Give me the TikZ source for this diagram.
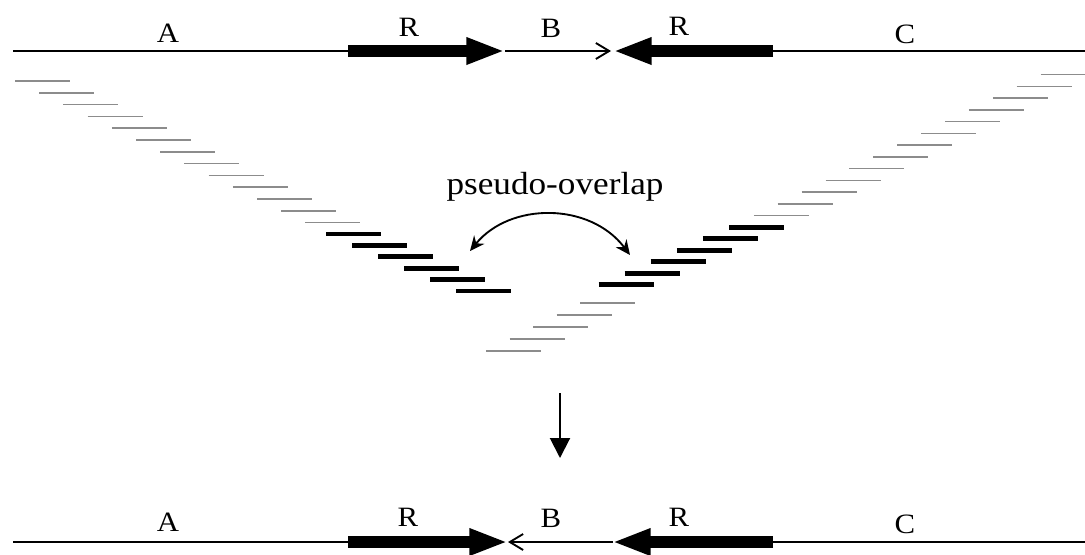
\documentclass[tikz,border=0pt]{standalone}
\usepackage{fontspec}
\setmainfont{Liberation Serif}
\usepackage{graphicx}
\usetikzlibrary{arrows.meta}
\newcommand{\stretched}[1]{\scalebox{1.1}[1]{#1}}
\tikzset{
    % genome line and the two repeat copies
    genome/.style={line width=1.5pt, black},
    repeatcopy/.style={line width=8.5pt, black, -{Triangle[length=29pt,width=18.5pt]}},
    gaparrow/.style={line width=1.4pt, black, -{Straight Barb[length=10pt,width=12pt,line width=1.4pt]}},
    % reads
    read/.style={line width=1.1pt, black!45},
    repeatread/.style={line width=3.6pt, black},
    % arrows in the middle
    swaparrow/.style={line width=1.4pt, {Stealth[length=11pt,width=10pt]}-{Stealth[length=11pt,width=10pt]}},
    steparrow/.style={line width=1.5pt, -{Triangle[length=15pt,width=15pt]}},
    lbl/.style={font=\fontsize{21pt}{24pt}\selectfont, anchor=base, inner sep=0pt},
    biglbl/.style={font=\fontsize{24pt}{27pt}\selectfont, anchor=base, inner sep=0pt},
}

\begin{document}
\begin{tikzpicture}[x=0.75pt,y=-0.75pt]
  \useasboundingbox (0,0) rectangle (1085,554);
  \clip (0,0) rectangle (1085,554);

  % top: genome before assembly
  \coordinate (tA) at (13,51);
  \coordinate (tR1) at (348,51);
  \coordinate (tB) at (505,51);
  \coordinate (tB2) at (611,51);
  \coordinate (tR2) at (613,51);
  \coordinate (tC) at (773,51);
  \coordinate (tE) at (1085,51);
  \draw[genome] (tA) -- (tR1);
  \draw[repeatcopy] (tR1) -- (tB);
  \draw[gaparrow] (tB) -- (tB2);
  \draw[repeatcopy] (tC) -- (tR2);
  \draw[genome] (tC) -- (tE);
  \node[lbl] (ltA) at (168,42) {\stretched{A}};
  \node[lbl] (ltR1) at (409,36) {\stretched{R}};
  \node[lbl] (ltB) at (551,37) {\stretched{B}};
  \node[lbl] (ltR2) at (679,35) {\stretched{R}};
  \node[lbl] (ltC) at (905,43) {\stretched{C}};

  % reads, left side
  \foreach \i in {0,...,12}{\draw[read] ({15+24.2*\i},{81+11.8*\i}) -- ++(55,0);}
  \foreach \i in {0,...,5}{\draw[repeatread] ({326+26*\i},{234+11.4*\i}) -- ++(55,0);}
  % reads, right side
  \foreach \i in {0,...,12}{\draw[read] ({1040.6-23.9*\i},{74.7+11.75*\i}) -- ++(55,0);}
  \foreach \i in {0,...,5}{\draw[repeatread] ({729-26.1*\i},{227.3+11.5*\i}) -- ++(55,0);}
  \foreach \i in {0,...,4}{\draw[read] ({580-23.5*\i},{303+12*\i}) -- ++(55,0);}

  % pseudo-overlap between the two read stacks
  \node[biglbl] (ov) at (555,194) {\stretched{pseudo-overlap}};
  \coordinate (ovL) at (470,251);
  \coordinate (ovR) at (630,255);
  \draw[swaparrow] (ovL) .. controls (510,202) and (590,202) .. (ovR);

  \coordinate (dTop) at (560,393);
  \coordinate (dBot) at (560,458);
  \draw[steparrow] (dTop) -- (dBot);

  % bottom: collapsed assembly
  \coordinate (bA) at (13,542);
  \coordinate (bR1) at (348,542);
  \coordinate (bB) at (508,542);
  \coordinate (bB2) at (613,542);
  \coordinate (bR2) at (612,542);
  \coordinate (bC) at (773,542);
  \coordinate (bE) at (1085,542);
  \draw[genome] (bA) -- (bR1);
  \draw[repeatcopy] (bR1) -- (bB);
  \draw[gaparrow] (bB2) -- (bB);
  \draw[repeatcopy] (bC) -- (bR2);
  \draw[genome] (bC) -- (bE);
  \node[lbl] (lbA) at (168,531) {\stretched{A}};
  \node[lbl] (lbR1) at (408,526) {\stretched{R}};
  \node[lbl] (lbB) at (551,527) {\stretched{B}};
  \node[lbl] (lbR2) at (679,526) {\stretched{R}};
  \node[lbl] (lbC) at (905,533) {\stretched{C}};
\end{tikzpicture}
\end{document}
